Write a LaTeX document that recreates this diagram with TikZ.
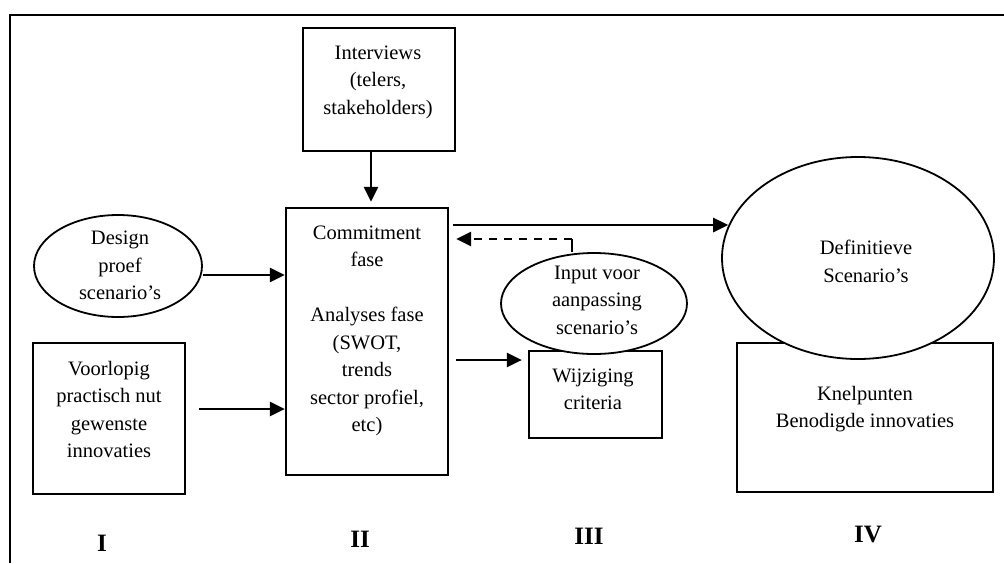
\documentclass[tikz,border=0pt]{standalone}
\usepackage{fontspec}
\setmainfont{Liberation Serif}
\usetikzlibrary{arrows.meta,shapes.geometric}
\begin{document}
\begin{tikzpicture}[x=1pt,y=-1pt,
  box/.style={draw,line width=2.2pt,rectangle,inner sep=0pt},
  oval/.style={draw,line width=1.8pt,ellipse,fill=white,inner sep=0pt},
  txt/.style={align=center,font=\fontsize{20.5}{27.5}\selectfont,inner sep=0pt},
  num/.style={font=\fontsize{25}{28}\selectfont\bfseries,inner sep=0pt},
  arr/.style={line width=2.7pt,-{Triangle[length=15pt,width=14pt]}},
  darr/.style={line width=2.7pt,dash pattern=on 8pt off 7pt,-{Triangle[length=15pt,width=14pt]}},
  frameline/.style={line width=2.2pt}
]
\useasboundingbox (0,0) rectangle (1004,563);
% frame
\coordinate (fTL) at (10,15);
\coordinate (fTR) at (1004,15);
\coordinate (fBL) at (10,563);
\draw[frameline] (fTR) -- (fTL) -- (fBL);
% boxes
\node[box,minimum width=152pt,minimum height=123pt] (inter) at (379,89.5) {};
\node[box,minimum width=162pt,minimum height=267pt] (commit) at (367,341.5) {};
\node[box,minimum width=152pt,minimum height=151pt] (voor) at (109,418.5) {};
\node[box,minimum width=133pt,minimum height=87pt] (wijz) at (595.5,394.5) {};
\node[box,minimum width=256pt,minimum height=149pt] (knel) at (865,417.5) {};
% ellipses
\node[oval,minimum width=168pt,minimum height=102pt] (design) at (118,266) {};
\node[oval,minimum width=186pt,minimum height=101pt] (input) at (594,303.5) {};
\node[oval,minimum width=272pt,minimum height=202pt] (def) at (858,258) {};
% texts
\node[txt] (interT) at (378,82) {Interviews\\(telers,\\stakeholders)};
\node[txt] (commitT) at (367,331) {Commitment\\fase\\[27.5pt]Analyses fase\\(SWOT,\\trends\\sector profiel,\\etc)};
\node[txt] (designT) at (120,265.5) {Design\\proef\\scenario’s};
\node[txt] (voorT) at (109,409.5) {Voorlopig\\practisch nut\\gewenste\\innovaties};
\node[txt] (inputT) at (597,300) {Input voor\\aanpassing\\scenario’s};
\node[txt] (wijzT) at (593,389.5) {Wijziging\\criteria};
\node[txt] (defT) at (866,261.5) {Definitieve\\Scenario’s};
\node[txt] (knelT) at (865,409) {Knelpunten\\Benodigde innovaties};
\node[num] (n1) at (102,543) {I};
\node[num] (n2) at (360,539) {II};
\node[num] (n3) at (589,536) {III};
\node[num] (n4) at (868,534) {IV};
% connectors
\coordinate (xI) at (371,0);
\draw[arr] (inter.south -| xI) -- ([yshift=5pt]commit.north -| xI);
\coordinate (yD) at (0,275);
\draw[arr] (design.east |- yD) -- (commit.west |- yD);
\coordinate (vA) at (199,409);
\draw[arr] (vA) -- (commit.west |- vA);
\coordinate (cA) at (453,225);
\draw[arr] (cA) -- (cA -| def.166);
\coordinate (cB) at (456,360);
\draw[arr] (cB) -- ([xshift=-6pt]wijz.west |- cB);
\coordinate (dC) at (572,239);
\draw[line width=2.7pt] (input.north -| dC) -- (dC);
\draw[darr] (dC) -- ([xshift=7pt]commit.east |- dC);
\end{tikzpicture}
\end{document}
